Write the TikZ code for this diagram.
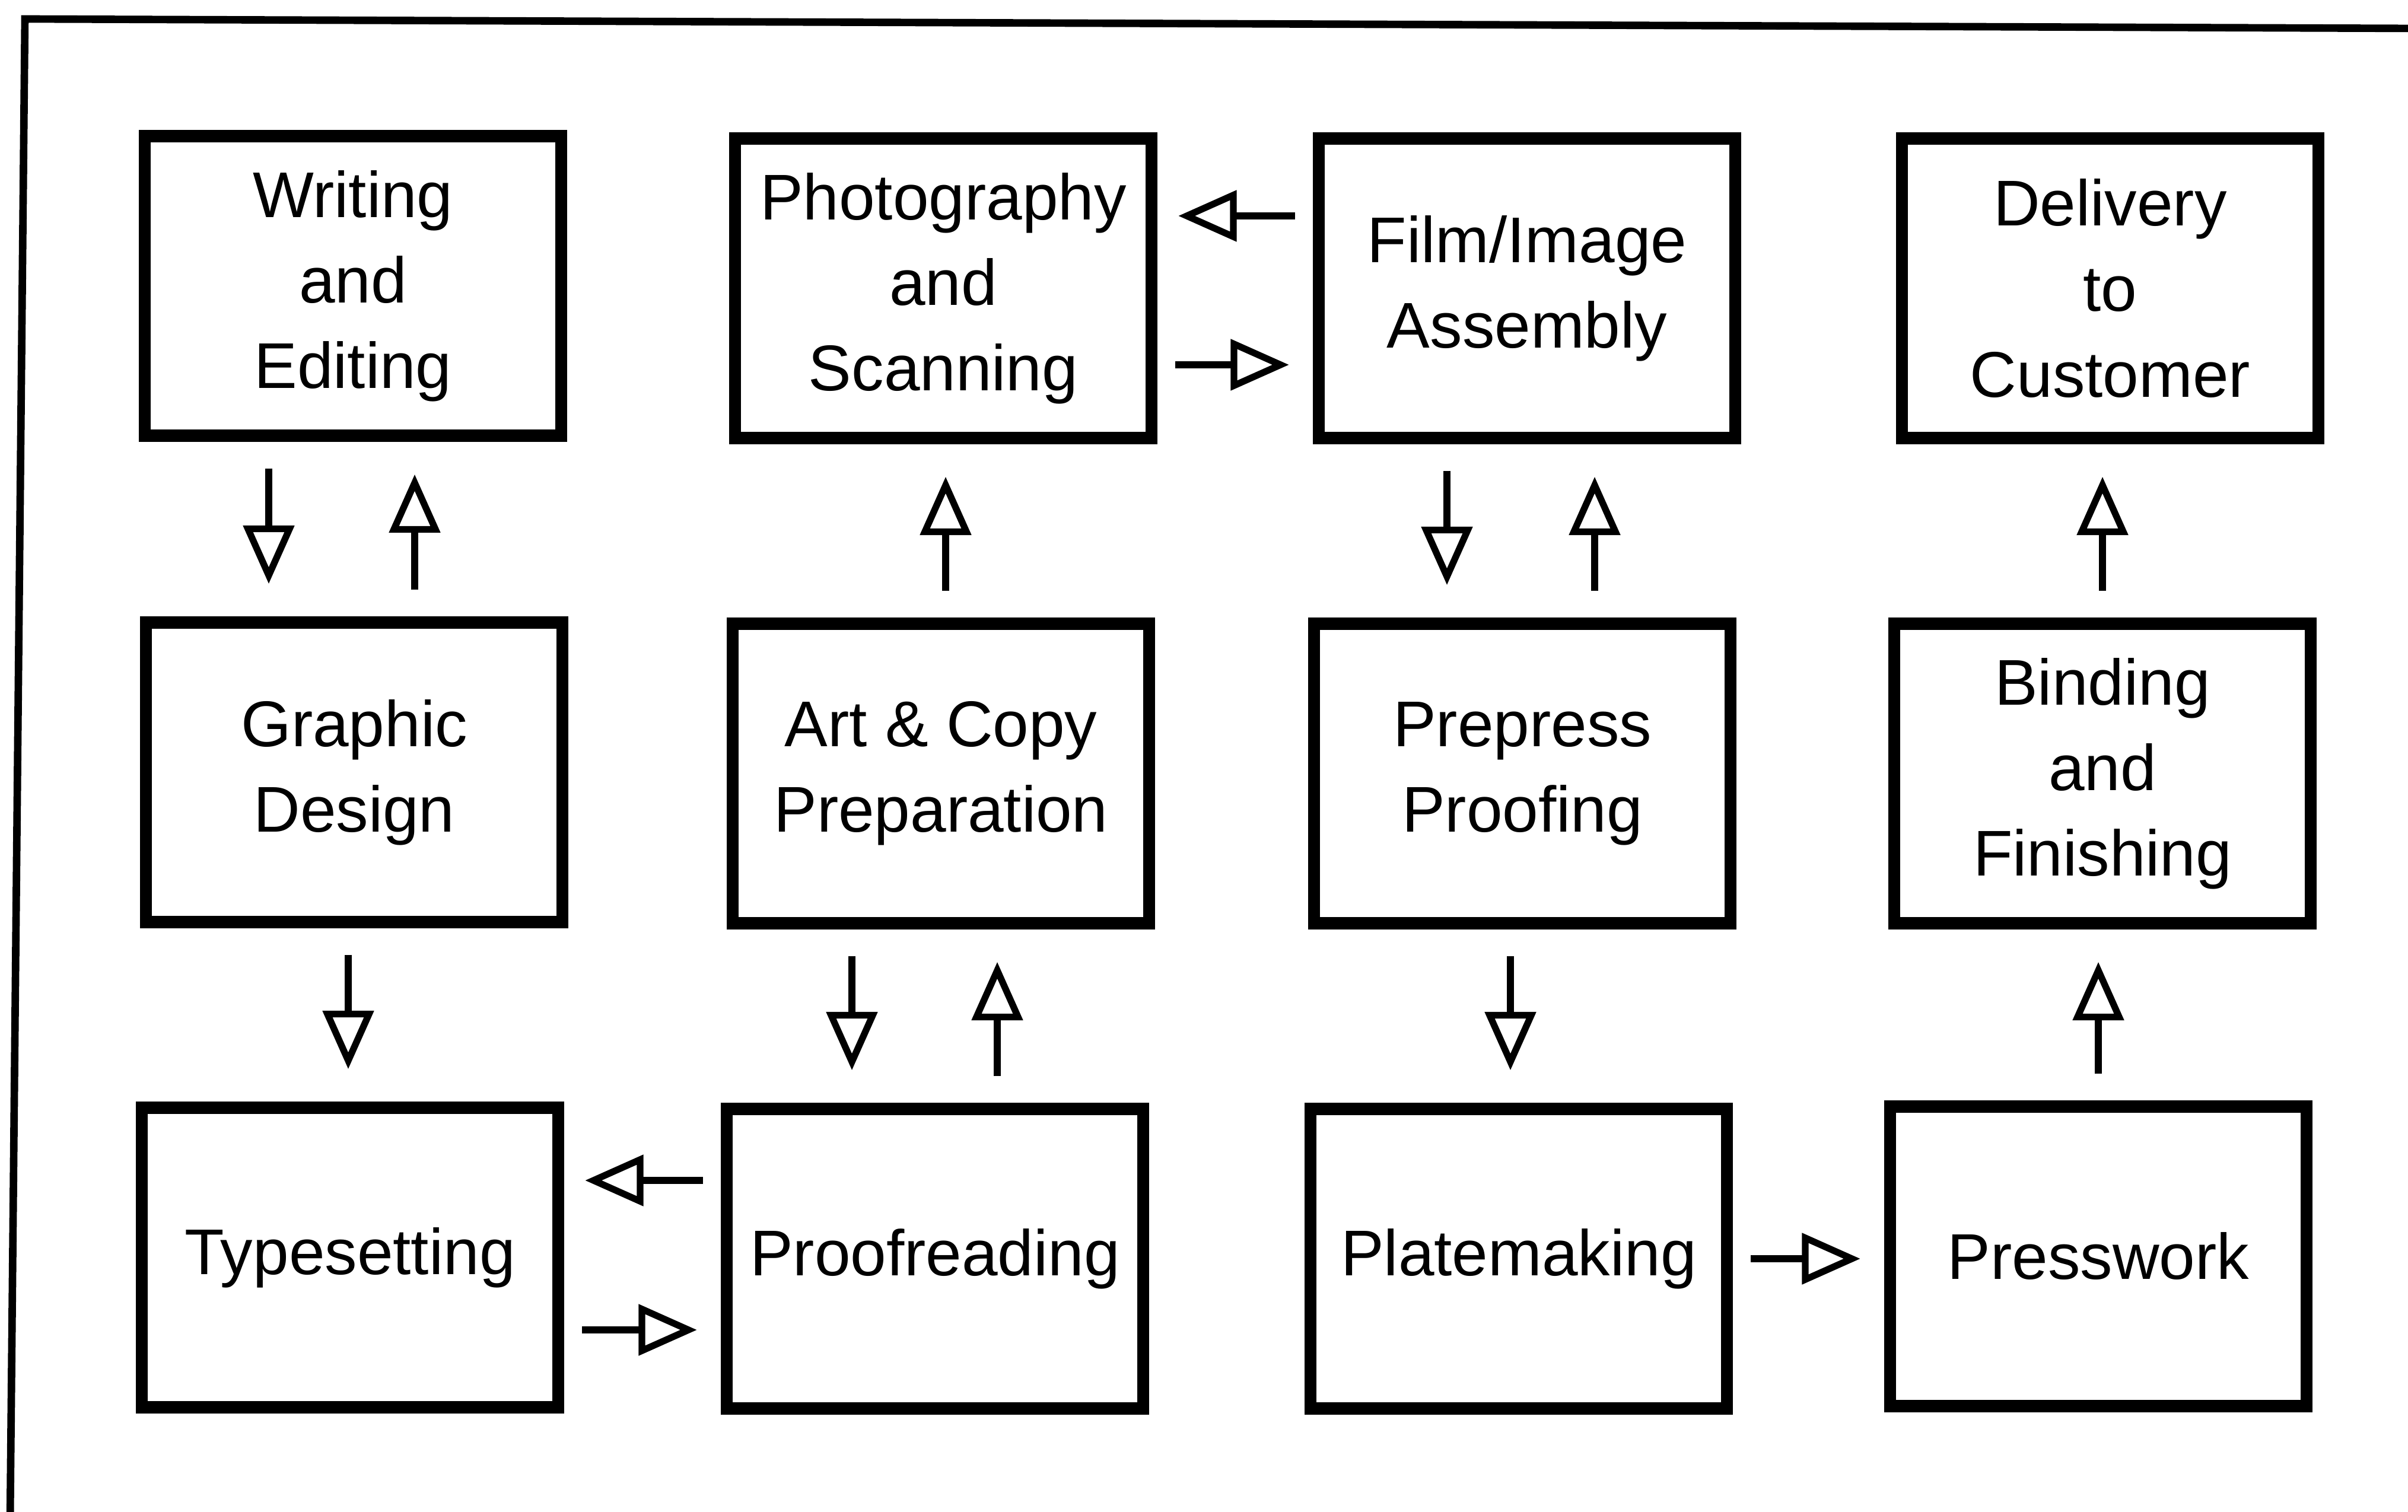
\documentclass[tikz,border=0pt]{standalone}
\usepackage{fontspec}
\setmainfont{Liberation Sans}
\usetikzlibrary{arrows.meta}
\begin{document}
\begin{tikzpicture}[>={Triangle[open,length=28pt,width=24pt]},
    box/.style={draw,line width=5.8pt,minimum width=7.02cm,minimum height=5.05cm,align=center,font=\fontsize{31}{41}\selectfont},
    arr/.style={->,line width=3.2pt,shorten <=0.45cm,shorten >=0.55cm}]
\useasboundingbox(0,0)rectangle(40.59,25.48);
\draw[line width=3.6pt](0.17,-0.2)--(0.42,25.16)--(40.8,25.0);
\node[box](we) at (5.95,20.66){Writing\\and\\Editing};
\node[box](ps) at (15.9,20.62){Photography\\and\\Scanning};
\node[box](fi) at (25.74,20.62){Film/Image\\Assembly};
\node[box](dc) at (35.57,20.62){Delivery\\to\\Customer};
\node[box](gd) at (5.97,12.46){Graphic\\Design};
\node[box](ac) at (15.86,12.44){Art \& Copy\\Preparation};
\node[box](pp) at (25.66,12.44){Prepress\\Proofing};
\node[box](bf) at (35.44,12.44){Binding\\and\\Finishing};
\node[box](ty) at (5.9,4.28){Typesetting};
\node[box](pr) at (15.76,4.26){Proofreading};
\node[box](pm) at (25.6,4.26){Platemaking};
\node[box](pw) at (35.37,4.3){Presswork};
\foreach \a/\b/\s in {we/gd/-1.42,fi/pp/-1.35,gd/ty/-0.1,ac/pr/-1.5,pp/pm/-0.2}
{
    \draw[arr]([xshift=\s cm]\a.south)--([xshift=\s cm]\a.south|-\b.north);
}
\foreach \a/\b/\s in {gd/we/1.02,pp/fi/1.22,ac/ps/0.08,bf/dc/0,pr/ac/1.05,pw/bf/0}
{
    \draw[arr]([xshift=\s cm]\a.north)--([xshift=\s cm]\a.north|-\b.south);
}
\foreach \a/\b/\s in {ps/fi/-1.29,ty/pr/-1.22,pm/pw/0}
{
    \draw[arr,shorten <=0.3cm,shorten >=0.4cm]([yshift=\s cm]\a.east)--([yshift=\s cm]\b.west|-\a.east);
}
\foreach \a/\b/\s in {fi/ps/1.22,pr/ty/1.32}
{
    \draw[arr,shorten <=0.3cm,shorten >=0.35cm]([yshift=\s cm]\a.west)--([yshift=\s cm]\b.east|-\a.west);
}
\end{tikzpicture}
\end{document}
